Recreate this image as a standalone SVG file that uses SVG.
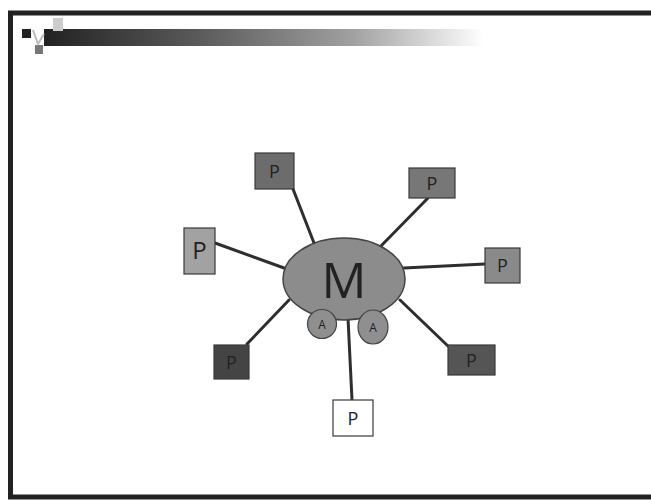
<svg xmlns="http://www.w3.org/2000/svg" width="651" height="501" viewBox="0 0 651 501">
<defs>
<linearGradient id="bar" x1="0" y1="0" x2="1" y2="0">
<stop offset="0" stop-color="#222"/>
<stop offset="0.35" stop-color="#5a5a5a"/>
<stop offset="0.7" stop-color="#a0a0a0"/>
<stop offset="1" stop-color="#ffffff"/>
</linearGradient>
</defs>
<style>
.box{stroke:#3a3a3a;stroke-width:1.2}
.lbl{font-family:"Open Sans","Liberation Sans",sans-serif;fill:#222;text-anchor:middle}
.con line{stroke:#2e2e2e;stroke-width:3;stroke-linecap:round}
</style>
<rect width="651" height="501" fill="#fff"/>
<g id="frame">
<rect x="10.5" y="13" width="660" height="484" fill="none" stroke="#222" stroke-width="5"/>
<rect x="44" y="29" width="440" height="17" fill="url(#bar)"/>
<rect x="22" y="29" width="9" height="9" fill="#222"/>
<rect x="35" y="45" width="8" height="9" fill="#777"/>
<rect x="53" y="18" width="10" height="13" fill="#ccc"/>
<path d="M33 30 L38 44 L44 34" fill="none" stroke="#bbb" stroke-width="2"/>
</g>
<g class="con" id="connectors">
<line x1="293" y1="189" x2="314" y2="243"/>
<line x1="428" y1="198" x2="380" y2="247"/>
<line x1="215" y1="243" x2="284" y2="268"/>
<line x1="404" y1="268" x2="485" y2="264"/>
<line x1="400" y1="300" x2="449" y2="347"/>
<line x1="289" y1="300" x2="247" y2="344"/>
<line x1="348" y1="318" x2="352" y2="400"/>
</g>
<g id="M">
<ellipse cx="344" cy="279" rx="61" ry="41" fill="#8c8c8c" stroke="#444" stroke-width="1.5"/>
<text class="lbl" x="344" y="298" font-size="50" fill="#333">M</text>
</g>
<g id="A1">
<circle cx="322" cy="324" r="14.5" fill="#8f8f8f" stroke="#444" stroke-width="1.2"/>
<text class="lbl" x="322" y="329" font-size="12">A</text>
</g>
<g id="A2">
<ellipse cx="373" cy="327" rx="15" ry="17" fill="#8f8f8f" stroke="#444" stroke-width="1.2"/>
<text class="lbl" x="373" y="332" font-size="12">A</text>
</g>
<g id="P1">
<rect class="box" x="255" y="153" width="39" height="36" fill="#6c6c6c"/>
<text class="lbl" x="274.5" y="178" font-size="18">P</text>
</g>
<g id="P2">
<rect class="box" x="409" y="168" width="46" height="30" fill="#777"/>
<text class="lbl" x="432" y="190" font-size="18">P</text>
</g>
<g id="P3">
<rect class="box" x="184" y="228" width="31" height="46" fill="#a2a2a2"/>
<text class="lbl" x="199.5" y="259" font-size="24">P</text>
</g>
<g id="P4">
<rect class="box" x="485" y="248" width="35" height="35" fill="#8a8a8a"/>
<text class="lbl" x="502.5" y="272" font-size="18">P</text>
</g>
<g id="P5">
<rect class="box" x="448" y="345" width="47" height="30" fill="#555"/>
<text class="lbl" x="471.5" y="367" font-size="18">P</text>
</g>
<g id="P6">
<rect class="box" x="214" y="345" width="35" height="34" fill="#444"/>
<text class="lbl" x="231.5" y="369" font-size="18">P</text>
</g>
<g id="P7">
<rect class="box" x="333" y="400" width="40" height="36" fill="#fff"/>
<text class="lbl" x="353" y="425" font-size="18">P</text>
</g>
</svg>
